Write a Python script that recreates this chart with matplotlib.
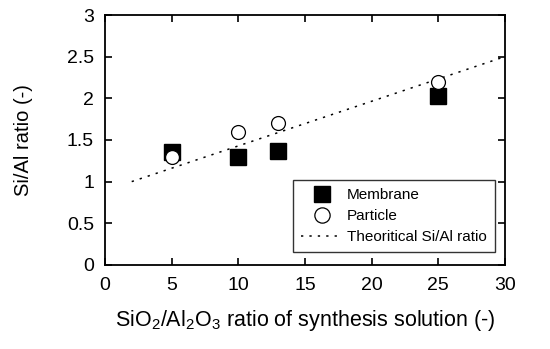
import matplotlib
matplotlib.use("Agg")
from matplotlib import pyplot as plt

plt.rcParams["font.family"] = ["Liberation Sans", "DejaVu Sans"]
plt.rcParams["mathtext.fontset"] = "custom"
plt.rcParams["mathtext.rm"] = "Liberation Sans"

# data
ratio_solution = [5, 10, 13, 25]
membrane = [1.35, 1.30, 1.37, 2.03]
particle = [1.30, 1.60, 1.70, 2.20]
theory_x = [2, 30]
theory_y = [1.0, 2.5]

fig = plt.figure(figsize=(5.5, 3.49), dpi=100)
ax = fig.add_axes([0.191, 0.241, 0.727, 0.716])

ax.plot(ratio_solution, membrane, "s", color="black", markersize=11, label="Membrane", zorder=3)
ax.plot(ratio_solution, particle, "o", markerfacecolor="white", markeredgecolor="black",
        markersize=10, markeredgewidth=0.9, label="Particle", zorder=4)
ax.plot(theory_x, theory_y, linestyle=(0, (1.5, 4)), color="black", linewidth=1.1,
        label="Theoritical Si/Al ratio", zorder=2)

ax.set_xlim(0, 30)
ax.set_ylim(0, 3)
ax.set_xticks([0, 5, 10, 15, 20, 25, 30])
ax.set_yticks([0, 0.5, 1, 1.5, 2, 2.5, 3])
ax.set_yticklabels(["0", "0.5", "1", "1.5", "2", "2.5", "3"])
ax.tick_params(direction="in", top=True, right=True, labelsize=14, length=5, width=1.2)
ax.tick_params(axis="x", pad=9)
ax.tick_params(axis="y", pad=8)
for s in ax.spines.values():
    s.set_linewidth(1.3)

ax.set_xlabel(r"SiO$_\mathrm{2}$/Al$_\mathrm{2}$O$_\mathrm{3}$ ratio of synthesis solution (-)",
              fontsize=15.5, labelpad=10)
ax.set_ylabel("Si/Al ratio (-)", fontsize=14.5, labelpad=24)

leg = ax.legend(loc="lower right", bbox_to_anchor=(0.975, 0.05), fontsize=11, frameon=True,
                fancybox=False, edgecolor="black", handlelength=2.7, borderpad=0.55,
                labelspacing=0.45, handletextpad=0.3, markerscale=1.1, borderaxespad=0)
leg.get_frame().set_linewidth(1.0)

fig.savefig("out.png", dpi=100)
